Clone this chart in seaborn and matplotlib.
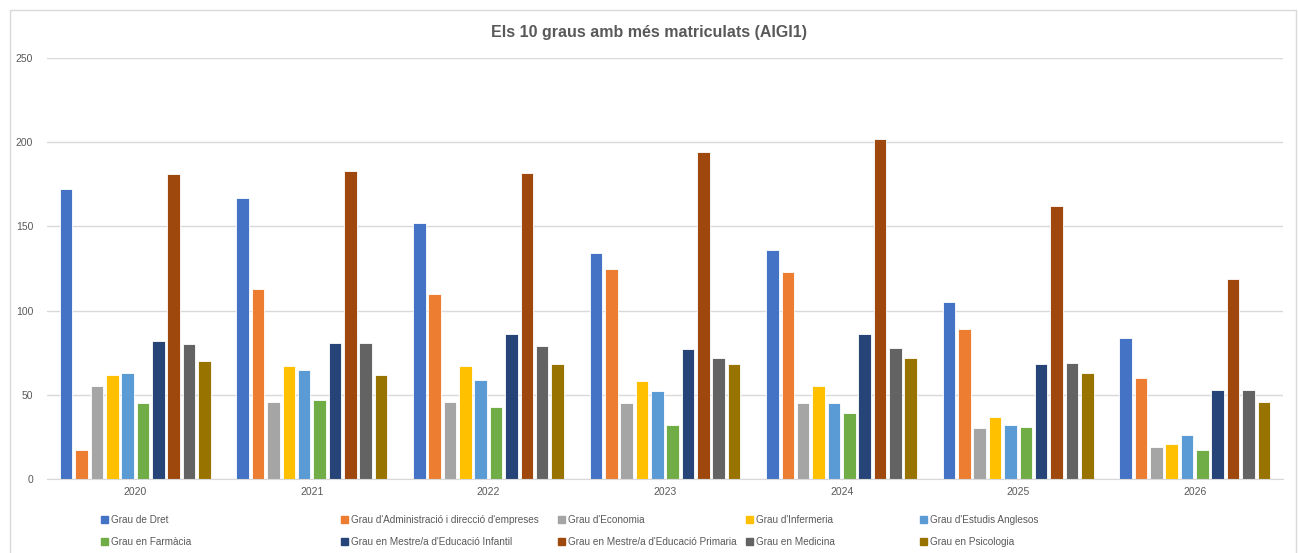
import matplotlib.pyplot as plt
import matplotlib.patches as mpatches
import pandas as pd
import seaborn as sns

years = ["2020", "2021", "2022", "2023", "2024", "2025", "2026"]

graus = [
    "Grau de Dret",
    "Grau d'Administració i direcció d'empreses",
    "Grau d'Economia",
    "Grau d'Infermeria",
    "Grau d'Estudis Anglesos",
    "Grau en Farmàcia",
    "Grau en Mestre/a d'Educació Infantil",
    "Grau en Mestre/a d'Educació Primaria",
    "Grau en Medicina",
    "Grau en Psicologia",
]

dret = [172, 167, 152, 134, 136, 105, 84]
administracio = [17, 113, 110, 125, 123, 89, 60]
economia = [55, 46, 46, 45, 45, 30, 19]
infermeria = [62, 67, 67, 58, 55, 37, 21]
anglesos = [63, 65, 59, 52, 45, 32, 26]
farmacia = [45, 47, 43, 32, 39, 31, 17]
infantil = [82, 81, 86, 77, 86, 68, 53]
primaria = [181, 183, 182, 194, 202, 162, 119]
medicina = [80, 81, 79, 72, 78, 69, 53]
psicologia = [70, 62, 68, 68, 72, 63, 46]

colors = ["#4472C4", "#ED7D31", "#A5A5A5", "#FFC000", "#5B9BD5",
          "#70AD47", "#264478", "#9E480E", "#636363", "#997300"]

series = [dret, administracio, economia, infermeria, anglesos,
          farmacia, infantil, primaria, medicina, psicologia]

rows = []
for grau, vals in zip(graus, series):
    for year, v in zip(years, vals):
        rows.append({"year": year, "grau": grau, "value": v})
df = pd.DataFrame(rows)

sns.set_style("white")
plt.rcParams["font.family"] = ["Liberation Sans", "DejaVu Sans"]

W, H = 1298, 553
fig = plt.figure(figsize=(W / 100, H / 100), dpi=100)
ax = fig.add_axes([47 / W, 1 - 479 / H, (1283 - 47) / W, (479 - 58) / H])

sns.barplot(
    data=df, x="year", y="value", hue="grau", hue_order=graus,
    order=years, palette=colors, saturation=1, width=0.87, gap=0.18,
    edgecolor="white", linewidth=0.6, ax=ax, legend=False,
)

ax.set_ylim(0, 250)
ax.set_xlim(-0.5, 6.5)
ax.set_yticks([0, 50, 100, 150, 200, 250])
ax.yaxis.grid(True, color="#d9d9d9", linewidth=1)
ax.set_axisbelow(True)
for s in ["top", "right", "left"]:
    ax.spines[s].set_visible(False)
ax.spines["bottom"].set_color("#d9d9d9")
ax.tick_params(axis="both", length=0, labelsize=7.5, colors="#595959")
ax.tick_params(axis="y", pad=10)
ax.tick_params(axis="x", pad=6)
ax.set_xlabel("")
ax.set_ylabel("")

fig.text(0.5, 1 - 32 / H, "Els 10 graus amb més matriculats (AIGI1)",
         ha="center", va="center", fontsize=11.5, fontweight="bold", color="#595959")

# chart border like the spreadsheet frame
fig.patches.append(mpatches.Rectangle((10 / W, -0.05), (1296 - 10) / W, 1.05 - 10 / H,
                                      transform=fig.transFigure, fill=False,
                                      edgecolor="#d9d9d9", linewidth=1))

col_x = [101, 341, 558, 746, 920]
row_y = [520, 542]
for i, (grau, c) in enumerate(zip(graus, colors)):
    h = mpatches.Patch(color=c, label=grau)
    fig.legend(handles=[h], loc="center left",
               bbox_to_anchor=(col_x[i % 5] / W, 1 - row_y[i // 5] / H),
               frameon=False, fontsize=7.2, handlelength=0.7, handleheight=0.7,
               handletextpad=0.3, borderpad=0, borderaxespad=0,
               labelcolor="#595959")

fig.savefig("out.png", dpi=100)
